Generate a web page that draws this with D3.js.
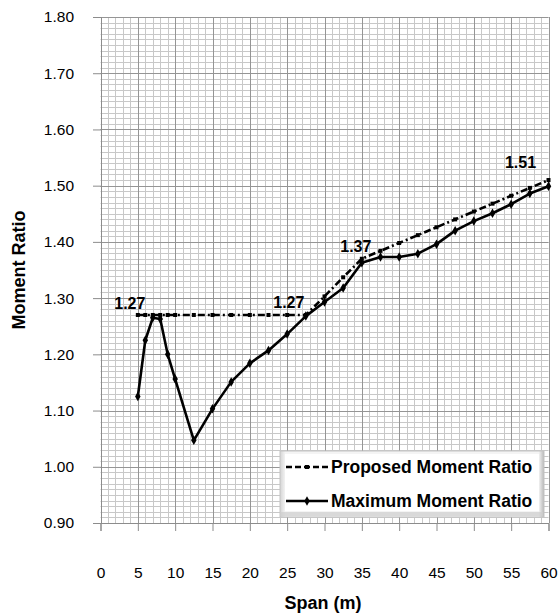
<!DOCTYPE html>
<html>
<head>
<meta charset="utf-8">
<script src="https://cdn.jsdelivr.net/npm/d3@7/dist/d3.min.js"></script>
<style>
  html, body { margin: 0; padding: 0; background: #fff; }
  svg { display: block; font-family: "Liberation Sans", Arial, sans-serif; }
</style>
</head>
<body>
<svg id="chart" width="559" height="615"></svg>
<script>
// Span values (m) shared by both series
const spans = [5, 6, 7, 8, 9, 10, 12.5, 15, 17.5, 20, 22.5, 25, 27.5, 30, 32.5, 35, 37.5, 40, 42.5, 45, 47.5, 50, 52.5, 55, 57.5, 60];
// Maximum moment ratio from analysis
const maximumRatio = [1.125, 1.225, 1.265, 1.263, 1.200, 1.156, 1.047, 1.103, 1.151, 1.184, 1.207, 1.236, 1.268, 1.293, 1.318, 1.363, 1.373, 1.373, 1.379, 1.396, 1.420, 1.437, 1.451, 1.467, 1.486, 1.499];
// Proposed (design) moment ratio
const proposedRatio = [1.27, 1.27, 1.27, 1.27, 1.27, 1.27, 1.27, 1.27, 1.27, 1.27, 1.27, 1.27, 1.27, 1.303, 1.337, 1.37, 1.384, 1.398, 1.412, 1.426, 1.44, 1.454, 1.468, 1.482, 1.496, 1.51];
// Labelled points on the proposed curve
const labelSpans = [5, 27.5, 35, 60];
const labelValues = [1.27, 1.27, 1.37, 1.51];
// Axis ticks
const xTicks = [0, 5, 10, 15, 20, 25, 30, 35, 40, 45, 50, 55, 60];
const yTicks = [0.9, 1.0, 1.1, 1.2, 1.3, 1.4, 1.5, 1.6, 1.7, 1.8];
const seriesNames = ["Proposed Moment Ratio", "Maximum Moment Ratio"];

const svg = d3.select("#chart");
const plotLeft = 100.5, plotRight = 548.5, plotTop = 17, plotBottom = 523;

const x = d3.scaleLinear().domain([0, 60]).range([plotLeft, plotRight]);
const y = d3.scaleLinear().domain([0.9, 1.8]).range([plotBottom, plotTop]);

// Minor grid: every 1 m and every 0.01
const grid = svg.append("g");
const minorX = d3.range(0, 61, 1);
const minorY = d3.range(90, 181, 1).map(d => d / 100);
grid.selectAll("line.mx").data(minorX).join("line")
  .attr("x1", d => Math.round(x(d)) + 0.5).attr("x2", d => Math.round(x(d)) + 0.5)
  .attr("y1", plotTop).attr("y2", plotBottom)
  .attr("stroke", "#c8c8c8").attr("stroke-width", 1);
grid.selectAll("line.my").data(minorY).join("line")
  .attr("y1", d => Math.round(y(d)) + 0.5).attr("y2", d => Math.round(y(d)) + 0.5)
  .attr("x1", plotLeft).attr("x2", plotRight)
  .attr("stroke", "#c8c8c8").attr("stroke-width", 1);
// Major grid
grid.selectAll("line.Mx").data(xTicks).join("line")
  .attr("x1", d => Math.round(x(d)) + 0.5).attr("x2", d => Math.round(x(d)) + 0.5)
  .attr("y1", plotTop).attr("y2", plotBottom)
  .attr("stroke", "#959595").attr("stroke-width", 1);
grid.selectAll("line.My").data(yTicks).join("line")
  .attr("y1", d => Math.round(y(d)) + 0.5).attr("y2", d => Math.round(y(d)) + 0.5)
  .attr("x1", plotLeft).attr("x2", plotRight)
  .attr("stroke", "#959595").attr("stroke-width", 1);

// Axes
const yAxis = d3.axisLeft(y).tickValues(yTicks).tickFormat(d3.format(".2f")).tickSize(8).tickPadding(19);
const xAxis = d3.axisBottom(x).tickValues(xTicks).tickFormat(d3.format("d")).tickSize(8).tickPadding(36);
const ga = svg.append("g").attr("transform", `translate(${Math.round(plotLeft)},0)`).call(yAxis);
const gb = svg.append("g").attr("transform", `translate(0,${Math.round(plotBottom)})`).call(xAxis);
[ga, gb].forEach(g => {
  g.select(".domain").attr("stroke", "#8c8c8c");
  g.selectAll(".tick line").attr("stroke", "#8c8c8c");
  g.selectAll(".tick text").attr("fill", "#000").style("font-size", "15.5px")
    .style("font-family", "'Liberation Sans', Arial, sans-serif");
});

// Axis titles
svg.append("text").attr("x", 323).attr("y", 609).attr("text-anchor", "middle")
  .style("font-size", "18px").style("font-weight", "bold").attr("fill", "#000").text("Span (m)");
svg.append("text").attr("transform", "translate(25,270) rotate(-90)").attr("text-anchor", "middle")
  .style("font-size", "18px").style("font-weight", "bold").attr("fill", "#000").text("Moment Ratio");

// Series lines
const line = d3.line().x(d => x(d[0])).y(d => y(d[1]));
const proposed = spans.map((s, i) => [s, proposedRatio[i]]);
const maximum = spans.map((s, i) => [s, maximumRatio[i]]);

svg.append("path").datum(maximum).attr("d", line)
  .attr("fill", "none").attr("stroke", "#000").attr("stroke-width", 2.6).attr("stroke-linejoin", "round");
svg.append("path").datum(proposed).attr("d", line)
  .attr("fill", "none").attr("stroke", "#000").attr("stroke-width", 2.6)
  .attr("stroke-dasharray", "7,3,2,3");

const diamond = d3.symbol().type(d3.symbolDiamond).size(26);
svg.append("g").selectAll("path").data(maximum).join("path")
  .attr("transform", d => `translate(${x(d[0])},${y(d[1])})`)
  .attr("d", diamond).attr("fill", "#000");
svg.append("g").selectAll("rect").data(proposed).join("rect")
  .attr("x", d => x(d[0]) - 2).attr("y", d => y(d[1]) - 2)
  .attr("width", 4).attr("height", 4).attr("fill", "#000");

// Value labels
const labelDx = [-8, -17, -6, -28];
const labelDy = [-6, -7, -7, -12];
svg.append("g").selectAll("text").data(labelSpans).join("text")
  .attr("x", (d, i) => x(d) + labelDx[i])
  .attr("y", (d, i) => y(labelValues[i]) + labelDy[i])
  .attr("text-anchor", "middle")
  .style("font-size", "16px").style("font-weight", "bold").attr("fill", "#000")
  .text((d, i) => labelValues[i].toFixed(2));

// Legend with bevelled frame
const defs = svg.append("defs");
const gh = defs.append("linearGradient").attr("id", "bevelH").attr("x1", 0).attr("x2", 1).attr("y1", 0).attr("y2", 0);
gh.append("stop").attr("offset", "0").attr("stop-color", "#d4d4d4");
gh.append("stop").attr("offset", "0.02").attr("stop-color", "#f4f4f4");
gh.append("stop").attr("offset", "0.98").attr("stop-color", "#f4f4f4");
gh.append("stop").attr("offset", "1").attr("stop-color", "#b8b8b8");
const lg = svg.append("g");
const lx = 280, ly = 451, lw = 264, lh = 66;
lg.append("rect").attr("x", lx).attr("y", ly).attr("width", lw).attr("height", lh)
  .attr("fill", "url(#bevelH)").attr("stroke", "#c4c4c4").attr("stroke-width", 1);
lg.append("rect").attr("x", lx + 1).attr("y", ly + lh - 5).attr("width", lw - 2).attr("height", 4)
  .attr("fill", "#cdcdcd").attr("opacity", 0.7);
lg.append("rect").attr("x", lx + 5).attr("y", ly + 3).attr("width", lw - 10).attr("height", lh - 9)
  .attr("fill", "#fff");

const rowsY = [467, 501];
// Proposed sample
lg.append("line").attr("x1", 286).attr("x2", 328).attr("y1", rowsY[0]).attr("y2", rowsY[0])
  .attr("stroke", "#000").attr("stroke-width", 2.6).attr("stroke-dasharray", "6,3");
lg.append("rect").attr("x", 305).attr("y", rowsY[0] - 2).attr("width", 4).attr("height", 4).attr("fill", "#000");
// Maximum sample
lg.append("line").attr("x1", 286).attr("x2", 328).attr("y1", rowsY[1]).attr("y2", rowsY[1])
  .attr("stroke", "#000").attr("stroke-width", 2.6);
lg.append("path").attr("transform", `translate(307,${rowsY[1]})`).attr("d", diamond).attr("fill", "#000");

lg.selectAll("text").data(seriesNames).join("text")
  .attr("x", 331).attr("y", (d, i) => rowsY[i] + 6)
  .style("font-size", "17.5px").style("font-weight", "bold").attr("fill", "#000")
  .text(d => d);
</script>
</body>
</html>
